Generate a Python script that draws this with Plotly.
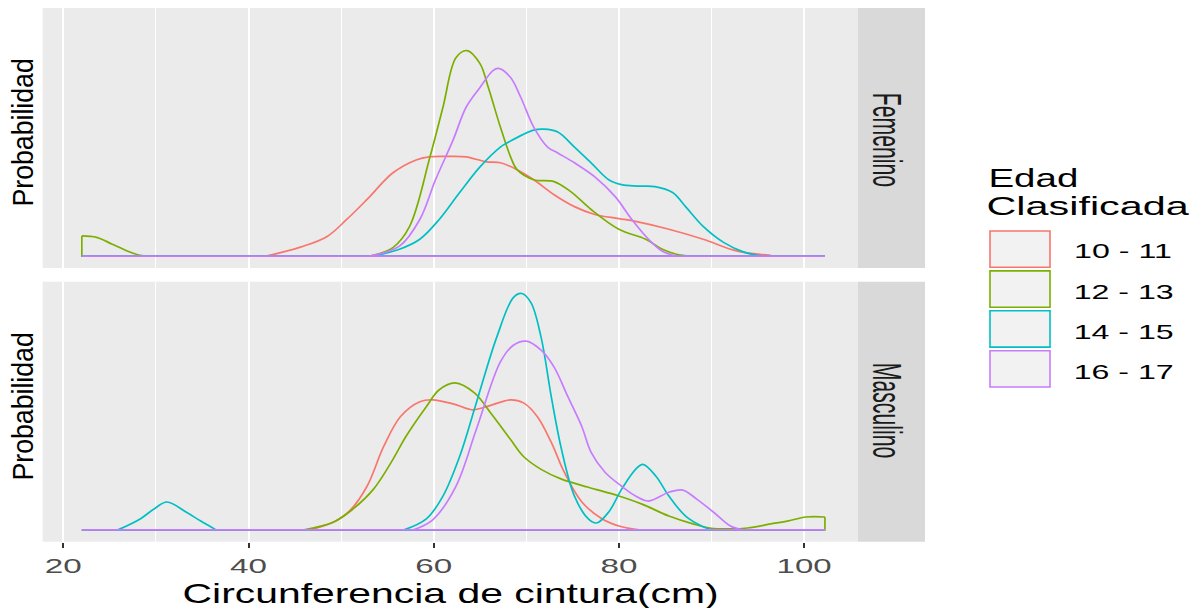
import json
import plotly.graph_objects as go

# ---- data -------------------------------------------------------------
groups = ["10 - 11", "12 - 13", "14 - 15", "16 - 17"]
panels = ["Femenino", "Masculino"]
x_ticks = [20, 40, 60, 80, 100]
x_support = [22.0, 102.25]          # range over which the densities were estimated

# Femenino
fem_10_x = [41.9, 45.6, 48.5, 50.6, 52.8, 55.6, 58.1, 59.5, 61.5, 63.5, 65.7, 67.2, 69.0, 70.8,
            73.0, 75.2, 77.4, 80.0, 81.8, 85.4, 89.1, 92.8, 96.4]
fem_10_y = [0.0, 0.0038, 0.0083, 0.0154, 0.0238, 0.0350, 0.0404, 0.0417, 0.0419, 0.0417, 0.0396,
            0.0392, 0.0363, 0.0321, 0.0258, 0.0208, 0.0175, 0.0158, 0.0146, 0.0113, 0.0071, 0.0021, 0.0004]

fem_12_x = [22.0, 23.6, 25.3, 26.9, 28.3, 29.2, None, 53.1, 55.6, 57.4, 59.6, 61.0, 62.4, 63.6, 65.0,
            65.9, 67.2, 68.3, 69.0, 70.8, 73.0, 74.8, 77.0, 80.0, 82.9, 84.7, 86.2, 87.8]
fem_12_y = [0.0085, 0.0079, 0.0050, 0.0022, 0.0004, 0.0, None, 0.0, 0.0036, 0.0125, 0.0417, 0.0625,
            0.0833, 0.0863, 0.0808, 0.0708, 0.0542, 0.0417, 0.0363, 0.0321, 0.0313, 0.0271, 0.0196,
            0.0113, 0.0071, 0.0029, 0.0008, 0.0]

fem_14_x = [53.5, 56.3, 58.5, 60.6, 62.8, 65.0, 67.2, 67.9, 70.8, 71.9, 73.4, 75.2, 77.0, 78.9, 80.3,
            82.0, 83.9, 85.8, 87.2, 89.1, 91.3, 93.5, 95.4]
fem_14_y = [0.0, 0.0029, 0.0071, 0.0154, 0.0267, 0.0375, 0.0458, 0.0475, 0.0529, 0.0533, 0.0521,
            0.0458, 0.0392, 0.0321, 0.0300, 0.0294, 0.0292, 0.0267, 0.0208, 0.0125, 0.0058, 0.0017, 0.0]

fem_16_x = [53.1, 56.3, 58.5, 60.2, 62.1, 63.5, 65.0, 66.4, 67.0, 68.3, 69.4, 70.8, 72.3, 73.4, 75.2,
            77.4, 79.6, 81.4, 83.2, 84.7, 86.2]
fem_16_y = [0.0, 0.0042, 0.0154, 0.0321, 0.0488, 0.0625, 0.0708, 0.0779, 0.0788, 0.0750, 0.0667,
            0.0542, 0.0458, 0.0433, 0.0392, 0.0333, 0.0250, 0.0154, 0.0071, 0.0021, 0.0]

# Masculino
mas_10_x = [46.6, 49.2, 51.0, 52.8, 54.6, 56.4, 58.5, 59.9, 62.1, 64.2, 65.7, 68.3, 69.7, 71.2, 72.7,
            74.1, 76.0, 78.2, 80.3, 82.2]
mas_10_y = [0.0, 0.0033, 0.0083, 0.0183, 0.0350, 0.0475, 0.0538, 0.0546, 0.0529, 0.0504, 0.0517,
            0.0546, 0.0533, 0.0475, 0.0367, 0.0242, 0.0117, 0.0046, 0.0013, 0.0]

mas_12_x = [46.0, 49.2, 51.3, 53.5, 55.6, 57.0, 59.2, 60.6, 62.3, 64.4, 66.3, 68.3, 69.7, 71.6, 73.8,
            76.7, 80.0, 82.5, 85.4, 88.0, 89.8, 92.0, 93.9, 96.4, 98.3, 100.2, 102.25]
mas_12_y = [0.0, 0.0033, 0.0088, 0.0171, 0.0296, 0.0392, 0.0517, 0.0588, 0.0617, 0.0575, 0.0483,
            0.0379, 0.0308, 0.0254, 0.0213, 0.0179, 0.0142, 0.0108, 0.0058, 0.0025, 0.0008, 0.0004,
            0.0008, 0.0025, 0.0038, 0.0054, 0.0054]

mas_14_x = [25.9, 28.3, 29.8, 31.2, 33.3, 34.8, 36.5, None, 56.8, 59.2, 61.0, 62.8, 64.6, 66.8, 68.6,
            69.5, 70.5, 71.6, 72.7, 73.8, 75.2, 76.7, 77.6, 78.9, 80.3, 81.8, 82.6, 84.0, 85.4, 87.2,
            89.1, 90.0]
mas_14_y = [0.0, 0.0046, 0.0088, 0.0117, 0.0074, 0.0038, 0.0, None, 0.0, 0.0046, 0.0142, 0.0308,
            0.0533, 0.0808, 0.0975, 0.0992, 0.0954, 0.0808, 0.0558, 0.0338, 0.0142, 0.0046, 0.0029,
            0.0075, 0.0171, 0.0254, 0.0275, 0.0225, 0.0142, 0.0058, 0.0013, 0.0]

mas_16_x = [57.8, 59.9, 62.4, 64.6, 67.2, 68.6, 70.0, 71.6, 73.0, 74.5, 76.0, 77.0, 78.5, 80.3, 81.8,
            83.2, 85.4, 86.9, 88.4, 90.2, 92.0, 93.3]
mas_16_y = [0.0, 0.0042, 0.0183, 0.0421, 0.0705, 0.0775, 0.0792, 0.0754, 0.0683, 0.0558, 0.0433,
            0.0325, 0.0242, 0.0183, 0.0142, 0.0121, 0.0158, 0.0167, 0.0129, 0.0075, 0.0017, 0.0]

# ---- style ------------------------------------------------------------
W, H = 1197, 608
FONT = "Liberation Sans, Arial, sans-serif"
colors = ["#F8766D", "#7CAE00", "#00BFC4", "#C77CFF"]
LINE_W = 1.7


def px(x):
    return x / W


def py(y):
    return 1 - y / H


# panel boxes in page pixels (top, bottom)
panel_rows = [(8, 268), (281.7, 541.7)]
panel_left, panel_right = 42.7, 858.0
strip_right = 925.0

curves = [
    [(fem_10_x, fem_10_y), (fem_12_x, fem_12_y), (fem_14_x, fem_14_y), (fem_16_x, fem_16_y)],
    [(mas_10_x, mas_10_y), (mas_12_x, mas_12_y), (mas_14_x, mas_14_y), (mas_16_x, mas_16_y)],
]

fig = go.Figure()
for p, panel_curves in enumerate(curves):
    xa = "x" if p == 0 else "x2"
    ya = "y" if p == 0 else "y2"
    for g, (xs, ys) in enumerate(panel_curves):
        # upper outline of the density
        fig.add_trace(go.Scatter(
            x=xs, y=ys, mode="lines", xaxis=xa, yaxis=ya,
            line=dict(color=colors[g], width=LINE_W, shape="spline", smoothing=1),
            connectgaps=False, showlegend=False, hoverinfo="skip"))
        # closing baseline of the polygon (with vertical ends at the support limits)
        y_left = ys[0] if xs[0] == x_support[0] else 0.0
        y_right = ys[-1] if xs[-1] == x_support[1] else 0.0
        fig.add_trace(go.Scatter(
            x=[x_support[0], x_support[0], x_support[1], x_support[1]],
            y=[y_left, 0.0, 0.0, y_right], mode="lines", xaxis=xa, yaxis=ya,
            line=dict(color=colors[g], width=LINE_W), showlegend=False, hoverinfo="skip"))

y_max = max(max(v for v in ys if v is not None) for pc in curves for _, ys in pc)
y_range = [-0.05 * y_max, 1.05 * y_max]
x_range = [20 - (63.3 - panel_left) / 9.26, 20 + (panel_right - 63.3) / 9.26]

xaxis_common = dict(
    range=x_range, domain=[px(panel_left), px(panel_right)],
    tickvals=x_ticks, showgrid=True, gridcolor="white", gridwidth=2,
    minor=dict(showgrid=True, gridcolor="white", gridwidth=1.1, tickvals=[30, 50, 70, 90]),
    zeroline=False, showline=False,
)
yaxis_common = dict(range=y_range, showgrid=False, zeroline=False, showticklabels=False,
                    ticks="", showline=False)

fig.update_layout(
    width=W, height=H, margin=dict(l=0, r=0, t=0, b=0),
    paper_bgcolor="white", plot_bgcolor="#EBEBEB", showlegend=False,
    font=dict(family=FONT, color="black"),
    xaxis=dict(**xaxis_common, anchor="y", matches="x2", showticklabels=False, ticks=""),
    xaxis2=dict(**xaxis_common, anchor="y2", ticks="outside", ticklen=5, tickwidth=2,
                tickcolor="#333333", tickfont=dict(size=21, color="#4D4D4D", family=FONT)),
    yaxis=dict(**yaxis_common, anchor="x", domain=[py(panel_rows[0][1]), py(panel_rows[0][0])]),
    yaxis2=dict(**yaxis_common, anchor="x2", domain=[py(panel_rows[1][1]), py(panel_rows[1][0])]),
)

shapes = []
annotations = []

# facet strips
for (top, bottom), label, yc in zip(panel_rows, panels, [140, 410.5]):
    shapes.append(dict(type="rect", xref="paper", yref="paper", layer="below",
                       x0=px(panel_right), x1=px(strip_right), y0=py(bottom), y1=py(top),
                       fillcolor="#D9D9D9", line=dict(width=0)))
    annotations.append(dict(text=label, xref="paper", yref="paper", x=px(887), y=py(yc),
                            xanchor="center", yanchor="middle", showarrow=False, textangle=90,
                            font=dict(size=40, color="#1A1A1A", family=FONT)))

# axis titles
annotations.append(dict(text="Circunferencia de cintura(cm)", xref="paper", yref="paper",
                        x=px(450), y=py(593), xanchor="center", yanchor="middle",
                        showarrow=False, font=dict(size=28, color="black", family=FONT)))
for yc in [133, 407]:
    annotations.append(dict(text="Probabilidad", xref="paper", yref="paper", x=px(23), y=py(yc),
                            xanchor="center", yanchor="middle", showarrow=False, textangle=-90,
                            font=dict(size=29, color="black", family=FONT)))

# legend
annotations.append(dict(text="Edad", xref="paper", yref="paper", x=px(1033), y=py(177.7),
                        xanchor="center", yanchor="middle", showarrow=False,
                        font=dict(size=26, color="black", family=FONT)))
annotations.append(dict(text="Clasificada", xref="paper", yref="paper", x=px(1087.5), y=py(206),
                        xanchor="center", yanchor="middle", showarrow=False,
                        font=dict(size=26, color="black", family=FONT)))
for i, (label, col) in enumerate(zip(groups, colors)):
    top = 231 + i * 39.9
    shapes.append(dict(type="rect", xref="paper", yref="paper",
                       x0=px(990), x1=px(1050), y0=py(top + 36.3), y1=py(top),
                       fillcolor="#F2F2F2", line=dict(color=col, width=1.6)))
    annotations.append(dict(text=label, xref="paper", yref="paper", x=px(1123), y=py(251 + i * 40),
                            xanchor="center", yanchor="middle", showarrow=False,
                            font=dict(size=21, color="black", family=FONT)))

fig.update_layout(shapes=shapes, annotations=annotations)

# horizontal glyph scaling applied to each text element after rendering
stretch = {"20": 1.58, "40": 1.58, "60": 1.58, "80": 1.58, "100": 1.57,
           "Circunferencia de cintura(cm)": 1.46, "Probabilidad": 0.92,
           "Femenino": 0.53, "Masculino": 0.53, "Edad": 1.48, "Clasificada": 1.59,
           "10 - 11": 1.53, "12 - 13": 1.53, "14 - 15": 1.53, "16 - 17": 1.53}

post = """
var gd = document.getElementById('{plot_id}');
var f = %s;
function fitText() {
  gd.querySelectorAll('text').forEach(function (t) {
    var s = t.textContent;
    if (Object.prototype.hasOwnProperty.call(f, s)) {
      t.removeAttribute('textLength');
      var L = t.getComputedTextLength();
      t.setAttribute('lengthAdjust', 'spacingAndGlyphs');
      t.setAttribute('textLength', (L * f[s]).toFixed(1));
    }
  });
}
fitText();
gd.on('plotly_afterplot', fitText);
""" % json.dumps(stretch)

fig.write_html("out.html", post_script=post)
